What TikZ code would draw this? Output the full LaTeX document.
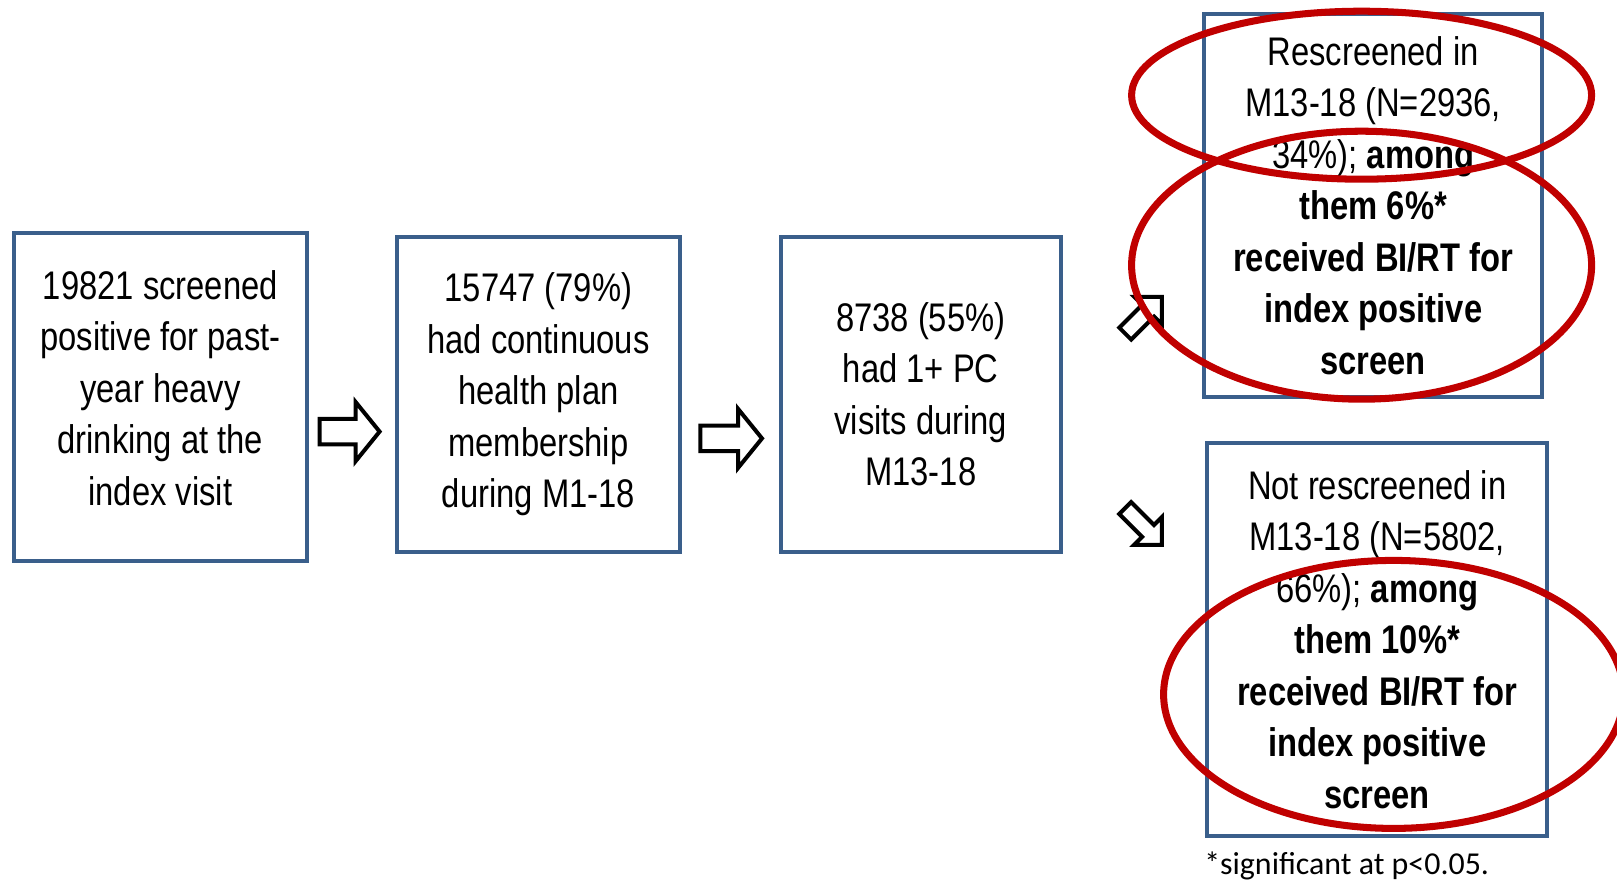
\documentclass[tikz,border=0pt]{standalone}
\usepackage{fontspec}
\setmainfont[FakeStretch=0.82]{Liberation Sans}
\newfontfamily\notefont{Carlito}
\usepackage{tikz}
\usetikzlibrary{shapes.geometric}
\definecolor{boxblue}{HTML}{3A5F8B}
\definecolor{ringred}{HTML}{C00000}
\tikzset{
  stage/.style ={rectangle, draw=boxblue, line width=3.2pt, fill=white,
                 align=center, inner sep=0pt,
                 font=\fontsize{28.4}{36.6}\selectfont},
  ring/.style  ={ellipse, draw=ringred, line width=5pt, inner sep=0pt,
                 minimum width=11.5cm},
  % hollow block arrow: half length, half shaft, half head, head length
  pics/hollow/.style n args={4}{code={%
    \draw[line width=2.85pt, fill=white]
      (-#1,-#2) -- (#1-#4,-#2) -- (#1-#4,-#3) -- (#1,0)
      -- (#1-#4,#3) -- (#1-#4,#2) -- (-#1,#2) -- cycle;}},
}

\begin{document}
\begin{tikzpicture}
\useasboundingbox (0,0) rectangle (40.425,-22.1);
\node[stage, minimum width=7.33cm, minimum height=8.2cm] (screen) at (4.01,-9.93)
  {19821 screened\\ positive for past-\\ year heavy\\ drinking at the\\ index visit\\[-0.82cm]};
\node[stage, minimum width=7.08cm, minimum height=7.88cm] (member) at (13.46,-9.86)
  {15747 (79\%)\\ had continuous\\ health plan\\ membership\\ during M1-18};
\node[stage, minimum width=7.0cm, minimum height=7.88cm] (visits) at (23.02,-9.86)
  {8738 (55\%)\\ had 1+ PC\\ visits during\\ M13-18};
\node[stage, minimum width=8.45cm, minimum height=9.58cm] (resc) at (34.33,-5.14)
  {Rescreened in\\ M13-18 (N=2936,\\ 34\%); \textbf{among}\\ \textbf{them 6\%*}\\
   \textbf{received BI/RT for}\\ \textbf{index positive}\\ \textbf{screen}};
\node[stage, minimum width=8.5cm, minimum height=9.83cm] (noresc) at (34.43,-15.99)
  {Not rescreened in\\ M13-18 (N=5802,\\ 66\%); \textbf{among}\\ \textbf{them 10\%*}\\
   \textbf{received BI/RT for}\\ \textbf{index positive}\\ \textbf{screen}};
\node[anchor=base west, inner sep=0pt, font=\notefont\fontsize{22.7}{27}\selectfont]
  (note) at (30.1,-21.85) {*significant at p<0.05.};

\pic (fwdA) at (8.74,-10.79) {hollow={0.75}{0.32}{0.74}{0.6}};
\pic (fwdB) at (18.28,-10.96) {hollow={0.77}{0.32}{0.74}{0.6}};
\pic[rotate=45] (upArr) at (28.59,-7.88) {hollow={0.65}{0.21}{0.49}{0.49}};
\pic[rotate=-45] (downArr) at (28.59,-13.16) {hollow={0.65}{0.21}{0.49}{0.49}};

\node[ring, minimum height=4.2cm] (ringTop) at (34.04,-2.38) {};
\node[ring, minimum height=6.7cm] (ringMid) at (34.04,-6.63) {};
\node[ring, minimum height=6.7cm] (ringLow) at (34.84,-17.36) {};
\end{tikzpicture}
\end{document}
